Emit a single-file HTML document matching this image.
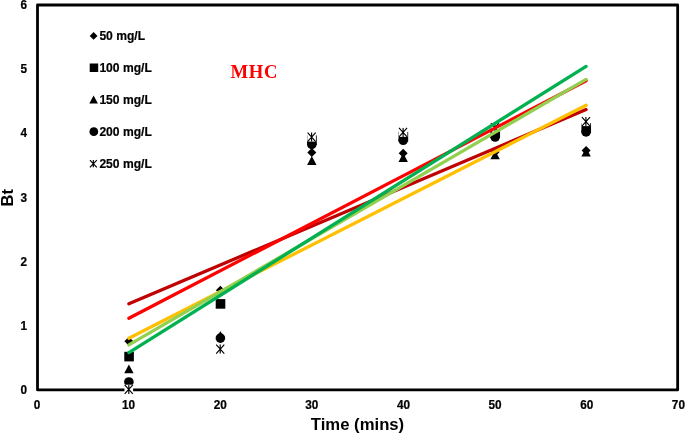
<!DOCTYPE html>
<html><head><meta charset="utf-8"><title>chart</title>
<style>
html,body{margin:0;padding:0;background:#fff;}
body{width:685px;height:434px;overflow:hidden;font-family:"Liberation Sans",sans-serif;}
svg{display:block;opacity:0.999;will-change:transform}
text{font-family:"Liberation Sans",sans-serif;font-weight:bold;fill:#000}
.tk{font-size:11.8px;stroke:#000;stroke-width:0.22px}
.lg{font-size:12.1px;stroke:#000;stroke-width:0.2px}
</style></head><body>
<svg width="685" height="434" viewBox="0 0 685 434">
<rect x="0" y="0" width="685" height="434" fill="#fff"/>
<rect x="37.5" y="5" width="640.15" height="384.95" fill="none" stroke="#000" stroke-width="2.8" stroke-linejoin="round"/>
<path d="M128.9 336.8L133.4 341.3L128.9 345.8L124.4 341.3Z" fill="#000"/>
<path d="M220.4 285.8L224.9 290.3L220.4 294.8L215.9 290.3Z" fill="#000"/>
<path d="M311.8 147.9L316.3 152.4L311.8 156.9L307.3 152.4Z" fill="#000"/>
<path d="M403.2 148.7L407.7 153.2L403.2 157.7L398.7 153.2Z" fill="#000"/>
<path d="M495.1 147.5L499.6 152.0L495.1 156.5L490.6 152.0Z" fill="#000"/>
<path d="M586.1 146.0L590.6 150.5L586.1 155.0L581.6 150.5Z" fill="#000"/>
<rect x="124.28" y="351.8" width="9.6" height="9.6" fill="#000"/>
<rect x="215.71" y="299.1" width="9.6" height="9.6" fill="#000"/>
<rect x="307.14" y="135.4" width="9.6" height="9.6" fill="#000"/>
<rect x="398.57" y="131.9" width="9.6" height="9.6" fill="#000"/>
<rect x="490.45" y="128.2" width="9.6" height="9.6" fill="#000"/>
<rect x="581.43" y="123.2" width="9.6" height="9.6" fill="#000"/>
<path d="M128.9 364.4L133.6 373.2L124.2 373.2Z" fill="#000"/>
<path d="M220.4 331.0L225.1 339.8L215.7 339.8Z" fill="#000"/>
<path d="M311.8 156.1L316.5 164.9L307.1 164.9Z" fill="#000"/>
<path d="M403.2 153.1L407.9 161.9L398.5 161.9Z" fill="#000"/>
<path d="M495.1 150.4L499.8 159.2L490.4 159.2Z" fill="#000"/>
<path d="M586.1 147.6L590.8 156.4L581.4 156.4Z" fill="#000"/>
<circle cx="128.9" cy="382.0" r="4.8" fill="#000"/>
<circle cx="220.4" cy="338.1" r="4.8" fill="#000"/>
<circle cx="311.8" cy="144.4" r="4.8" fill="#000"/>
<circle cx="403.2" cy="140.3" r="4.8" fill="#000"/>
<circle cx="495.1" cy="137.0" r="4.8" fill="#000"/>
<circle cx="586.1" cy="131.9" r="4.8" fill="#000"/>
<rect x="124.5" y="384.7" width="8.6" height="9.2" fill="#fff"/><path d="M128.8 384.9V393.9M124.7 384.9L132.8 393.9M132.8 384.9L124.7 393.9" stroke="#000" stroke-width="1.15" fill="none"/>
<rect x="215.9" y="344.4" width="8.6" height="9.2" fill="#fff"/><path d="M220.2 344.6V353.6M216.2 344.6L224.3 353.6M224.3 344.6L216.2 353.6" stroke="#000" stroke-width="1.15" fill="none"/>
<rect x="307.3" y="132.4" width="8.6" height="9.2" fill="#fff"/><path d="M311.6 132.6V141.6M307.6 132.6L315.7 141.6M315.7 132.6L307.6 141.6" stroke="#000" stroke-width="1.15" fill="none"/>
<rect x="398.8" y="127.7" width="8.6" height="9.2" fill="#fff"/><path d="M403.1 127.9V136.9M399.0 127.9L407.1 136.9M407.1 127.9L399.0 136.9" stroke="#000" stroke-width="1.15" fill="none"/>
<rect x="490.7" y="122.9" width="8.6" height="9.2" fill="#fff"/><path d="M495.0 123.1V132.1M490.9 123.1L499.0 132.1M499.0 123.1L490.9 132.1" stroke="#000" stroke-width="1.15" fill="none"/>
<rect x="581.6" y="116.9" width="8.6" height="9.2" fill="#fff"/><path d="M585.9 117.1V126.1M581.9 117.1L590.0 126.1M590.0 117.1L581.9 126.1" stroke="#000" stroke-width="1.15" fill="none"/>
<line x1="128.9" y1="303.85" x2="586.1" y2="109.6" stroke="#C00000" stroke-width="3.3" stroke-linecap="round"/>
<line x1="128.9" y1="318.3" x2="586.1" y2="80.7" stroke="#FF0000" stroke-width="3.3" stroke-linecap="round"/>
<line x1="128.9" y1="338.2" x2="586.1" y2="105.3" stroke="#FFC000" stroke-width="3.3" stroke-linecap="round"/>
<line x1="128.9" y1="344.9" x2="586.1" y2="79.4" stroke="#92D050" stroke-width="3.3" stroke-linecap="round"/>
<line x1="128.9" y1="352.6" x2="586.1" y2="66.4" stroke="#00B050" stroke-width="3.3" stroke-linecap="round"/>
<text class="tk" transform="translate(27.1,393.80) scale(1,1.04)" text-anchor="end">0</text>
<text class="tk" transform="translate(27.1,329.70) scale(1,1.04)" text-anchor="end">1</text>
<text class="tk" transform="translate(27.1,265.60) scale(1,1.04)" text-anchor="end">2</text>
<text class="tk" transform="translate(27.1,201.50) scale(1,1.04)" text-anchor="end">3</text>
<text class="tk" transform="translate(27.1,137.40) scale(1,1.04)" text-anchor="end">4</text>
<text class="tk" transform="translate(27.1,73.30) scale(1,1.04)" text-anchor="end">5</text>
<text class="tk" transform="translate(27.1,8.80) scale(1,1.04)" text-anchor="end">6</text>
<text class="tk" transform="translate(36.97,408.7) scale(1,1.04)" text-anchor="middle">0</text>
<text class="tk" transform="translate(128.60,408.7) scale(1,1.04)" text-anchor="middle">10</text>
<text class="tk" transform="translate(220.23,408.7) scale(1,1.04)" text-anchor="middle">20</text>
<text class="tk" transform="translate(311.86,408.7) scale(1,1.04)" text-anchor="middle">30</text>
<text class="tk" transform="translate(403.49,408.7) scale(1,1.04)" text-anchor="middle">40</text>
<text class="tk" transform="translate(495.12,408.7) scale(1,1.04)" text-anchor="middle">50</text>
<text class="tk" transform="translate(586.75,408.7) scale(1,1.04)" text-anchor="middle">60</text>
<text class="tk" transform="translate(678.38,408.7) scale(1,1.04)" text-anchor="middle">70</text>
<text x="357.5" y="429.75" text-anchor="middle" style="font-size:16.7px">Time (mins)</text>
<text transform="translate(13,197.7) rotate(-90)" text-anchor="middle" style="font-size:16.5px">Bt</text>
<text x="230.5" y="78.1" style="font-family:'Liberation Serif',serif;font-size:18.67px;letter-spacing:0.7px;fill:#FF0000">MHC</text>
<text class="lg" transform="translate(99.4,39.9) scale(1,1.03)">50 mg/L</text>
<text class="lg" transform="translate(99.4,71.7) scale(1,1.03)">100 mg/L</text>
<text class="lg" transform="translate(99.4,103.9) scale(1,1.03)">150 mg/L</text>
<text class="lg" transform="translate(99.4,136.2) scale(1,1.03)">200 mg/L</text>
<text class="lg" transform="translate(99.4,168.3) scale(1,1.03)">250 mg/L</text>
<path d="M93.6 32.0L97.5 35.9L93.6 39.8L89.7 35.9Z" fill="#000"/>
<rect x="89.70" y="63.5" width="8.5" height="8.5" fill="#000"/>
<path d="M93.6 95.5L97.9 103.5L89.3 103.5Z" fill="#000"/>
<circle cx="93.8" cy="131.7" r="4.4" fill="#000"/>
<path d="M93.3 160.1V167.3M89.9 160.1L96.8 167.3M96.8 160.1L89.9 167.3" stroke="#000" stroke-width="1.15" fill="none"/>
</svg></body></html>
